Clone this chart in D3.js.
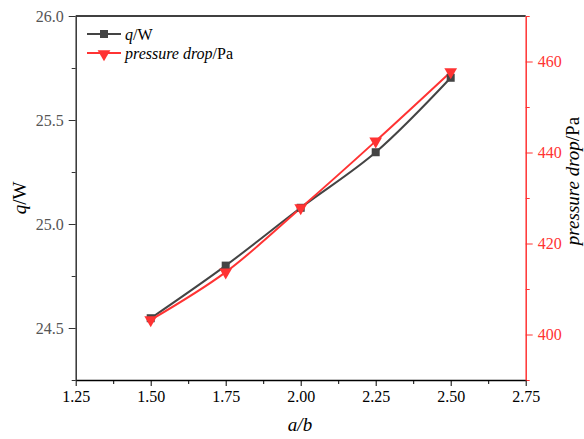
<!DOCTYPE html>
<html>
<head>
<meta charset="utf-8">
<script src="https://cdn.jsdelivr.net/npm/d3@7"></script>
<style>
  body { margin: 0; background: #fff; }
  text { font-family: "Liberation Serif", "Times New Roman", serif; }
</style>
</head>
<body>
<div id="chart"></div>
<script>
// data
var ratio = [1.5, 1.75, 2.0, 2.25, 2.5];
var heatQ = [24.547, 24.800, 25.078, 25.345, 25.703];
var pressureDrop = [403.2, 413.7, 427.8, 442.5, 457.7];
var xTicks = [1.25, 1.5, 1.75, 2.0, 2.25, 2.5, 2.75];
var leftTicks = [24.5, 25.0, 25.5, 26.0];
var rightTicks = [400, 420, 440, 460];

var red = '#ff3333', grey = '#444';

var svg = d3.select('#chart').append('svg')
  .attr('width', 584)
  .attr('height', 439);

// plot box (window.top is read only, so use other names)
var pLeft = 75.7, pRight = 525.7, pTop = 16, pBottom = 380;

var x = d3.scaleLinear().domain([1.25, 2.75]).range([pLeft, pRight]);
var yL = d3.scaleLinear().domain([24.25, 26.0]).range([pBottom, pTop]);
var yR = d3.scaleLinear().domain([390, 470]).range([pBottom, pTop]);

// top frame line
svg.append('line')
  .attr('x1', pLeft).attr('x2', pRight)
  .attr('y1', pTop).attr('y2', pTop)
  .attr('stroke', '#000').attr('stroke-width', 1.5);

// minor ticks first
var minorX = d3.range(1.375, 2.75, 0.25);
svg.append('g').attr('transform', 'translate(0,' + pBottom + ')')
  .call(d3.axisBottom(x).tickValues(minorX).tickSize(4).tickFormat(''))
  .call(function (g) { g.select('.domain').remove(); g.selectAll('line').attr('stroke', '#000'); });

svg.append('g').attr('transform', 'translate(' + pLeft + ',0)')
  .call(d3.axisLeft(yL).tickValues([24.25, 24.75, 25.25, 25.75]).tickSize(4).tickFormat(''))
  .call(function (g) { g.select('.domain').remove(); g.selectAll('line').attr('stroke', '#333'); });

svg.append('g').attr('transform', 'translate(' + pRight + ',0)')
  .call(d3.axisRight(yR).tickValues([390, 410, 430, 450, 470]).tickSize(4).tickFormat(''))
  .call(function (g) { g.select('.domain').remove(); g.selectAll('line').attr('stroke', red); });

// x axis
var gx = svg.append('g').attr('transform', 'translate(0,' + pBottom + ')')
  .call(d3.axisBottom(x).tickValues(xTicks).tickSize(6).tickSizeOuter(0).tickPadding(5)
    .tickFormat(d3.format('.2f')));
gx.select('.domain').attr('stroke', '#000').attr('stroke-width', 1.5);
gx.selectAll('line').attr('stroke', '#000');
gx.selectAll('text').attr('fill', '#000').style('font-size', '16px');

// left axis
var gl = svg.append('g').attr('transform', 'translate(' + pLeft + ',0)')
  .call(d3.axisLeft(yL).tickValues(leftTicks).tickSize(7).tickSizeOuter(0).tickPadding(5)
    .tickFormat(d3.format('.1f')));
gl.select('.domain').attr('stroke', '#333').attr('stroke-width', 1.5);
gl.selectAll('line').attr('stroke', '#333');
gl.selectAll('text').attr('fill', '#555').style('font-size', '16px');

// right axis
var gr = svg.append('g').attr('transform', 'translate(' + pRight + ',0)')
  .call(d3.axisRight(yR).tickValues(rightTicks).tickSize(7).tickSizeOuter(0).tickPadding(5));
gr.select('.domain').attr('stroke', red).attr('stroke-width', 1.5);
gr.selectAll('line').attr('stroke', red);
gr.selectAll('text').attr('fill', red).style('font-size', '16px');

// axis titles
svg.append('text')
  .attr('x', 300).attr('y', 431)
  .attr('text-anchor', 'middle')
  .style('font-size', '19px').style('font-style', 'italic')
  .text('a/b');

var tl = svg.append('text')
  .attr('transform', 'translate(26,198) rotate(-90)')
  .attr('text-anchor', 'middle')
  .style('font-size', '19px');
tl.append('tspan').style('font-style', 'italic').text('q');
tl.append('tspan').text('/W');

var tr = svg.append('text')
  .attr('transform', 'translate(579,181) rotate(-90)')
  .attr('text-anchor', 'middle')
  .style('font-size', '19px');
tr.append('tspan').style('font-style', 'italic').text('pressure drop');
tr.append('tspan').text('/Pa');

// lines
var qData = ratio.map(function (r, i) { return { x: r, y: heatQ[i] }; });
var pData = ratio.map(function (r, i) { return { x: r, y: pressureDrop[i] }; });

var lineL = d3.line().curve(d3.curveCatmullRom.alpha(0.5))
  .x(function (d) { return x(d.x); }).y(function (d) { return yL(d.y); });
var lineR = d3.line().curve(d3.curveCatmullRom.alpha(0.5))
  .x(function (d) { return x(d.x); }).y(function (d) { return yR(d.y); });

svg.append('path').datum(qData)
  .attr('d', lineL).attr('fill', 'none')
  .attr('stroke', grey).attr('stroke-width', 2);

svg.append('path').datum(pData)
  .attr('d', lineR).attr('fill', 'none')
  .attr('stroke', red).attr('stroke-width', 2);

var square = d3.symbol().type(d3.symbolSquare).size(64);
var tri = d3.symbol().type(d3.symbolTriangle).size(70);

svg.selectAll('.sq').data(qData).enter().append('path')
  .attr('class', 'sq')
  .attr('d', square)
  .attr('transform', function (d) { return 'translate(' + x(d.x) + ',' + yL(d.y) + ')'; })
  .attr('fill', grey);

svg.selectAll('.tri').data(pData).enter().append('path')
  .attr('class', 'tri')
  .attr('d', tri)
  .attr('transform', function (d) { return 'translate(' + x(d.x) + ',' + yR(d.y) + ') rotate(180)'; })
  .attr('fill', red);

// legend
var legend = svg.append('g');
legend.append('line').attr('x1', 87).attr('x2', 121).attr('y1', 34).attr('y2', 34)
  .attr('stroke', grey).attr('stroke-width', 2);
legend.append('path').attr('d', square).attr('transform', 'translate(104,34)').attr('fill', grey);
var l1 = legend.append('text').attr('x', 125).attr('y', 40).style('font-size', '16px');
l1.append('tspan').style('font-style', 'italic').text('q');
l1.append('tspan').text('/W');

legend.append('line').attr('x1', 87).attr('x2', 121).attr('y1', 53).attr('y2', 53)
  .attr('stroke', red).attr('stroke-width', 2);
legend.append('path').attr('d', tri).attr('transform', 'translate(104,54) rotate(180)').attr('fill', red);
var l2 = legend.append('text').attr('x', 125).attr('y', 59).style('font-size', '16px');
l2.append('tspan').style('font-style', 'italic').text('pressure drop');
l2.append('tspan').text('/Pa');
</script>
</body>
</html>
